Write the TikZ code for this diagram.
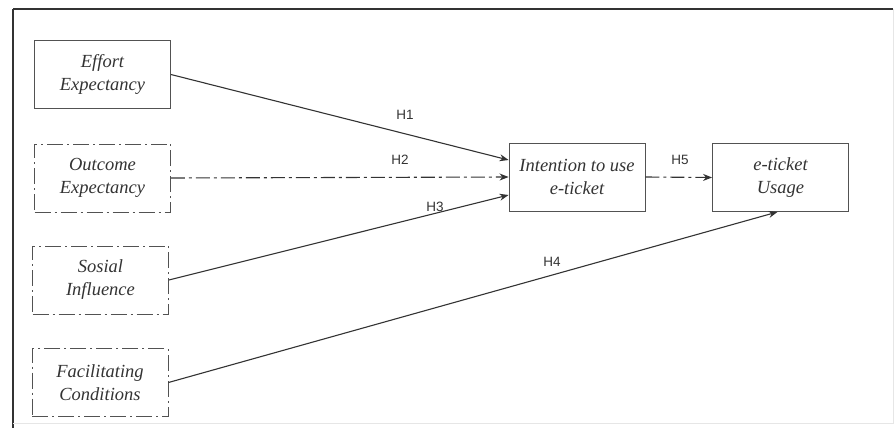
\documentclass[tikz,border=0pt]{standalone}
\usepackage{fontspec}
\setmainfont{Liberation Serif}
\setsansfont{Liberation Sans}
\usetikzlibrary{arrows.meta}
\definecolor{ink}{HTML}{333333}
\definecolor{faint}{HTML}{E6E6E6}
\tikzset{
  box/.style={draw=ink!85, line width=0.9pt, minimum width=136pt, minimum height=68pt,
    align=center, inner sep=2pt, text=ink,
    font=\fontsize{18.5}{23}\selectfont\itshape},
  dbox/.style={box, dash pattern=on 16pt off 4pt on 2pt off 4pt},
  link/.style={draw=ink, line width=1.1pt, -{Stealth[length=9pt,width=7pt]}},
  dlink/.style={link, dash pattern=on 14pt off 4pt on 3pt off 4pt},
  hyp/.style={font=\sffamily\fontsize{13.5}{15}\selectfont, text=ink, inner sep=0pt}
}
\begin{document}
\begin{tikzpicture}[x=1pt,y=-1pt]
\useasboundingbox (0,0) rectangle (896,428);
% frame
\draw[ink, line width=2.2pt] (13,9) -- (893,9);
\draw[ink, line width=1.6pt] (13,9) -- (13,428);
\draw[faint, line width=1pt] (893,9) -- (893,423) -- (13,423);
% boxes
\node[box]  (ee) at (102.5,74.5) {Effort\\Expectancy};
\node[dbox] (oe) at (102.5,178) {Outcome\\Expectancy};
\node[dbox] (si) at (100.5,280) {Sosial\\Influence};
\node[dbox] (fc) at (100,382.5) {Facilitating\\Conditions};
\node[box]  (it) at (577,177) {Intention to use\\e-ticket};
\node[box]  (us) at (780.5,177.5) {e-ticket\\Usage};
% anchors on intention box
\coordinate (it1) at ([yshift=17pt]it.west);
\coordinate (it3) at ([yshift=-18pt]it.west);
% connectors
\draw[link]  (ee.east) -- (it1);
\draw[dlink] (oe.east) -- (it.west);
\draw[link]  (si.east) -- (it3);
\draw[link]  (fc.east) -- ([xshift=-3pt]us.south);
\draw[dlink] (it.east) -- (us.west);
% labels
\node[hyp] (h1) at (405,115) {H1};
\node[hyp] (h2) at (400,160) {H2};
\node[hyp] (h3) at (435,207) {H3};
\node[hyp] (h4) at (552,262) {H4};
\node[hyp] (h5) at (680,160) {H5};
\end{tikzpicture}
\end{document}
